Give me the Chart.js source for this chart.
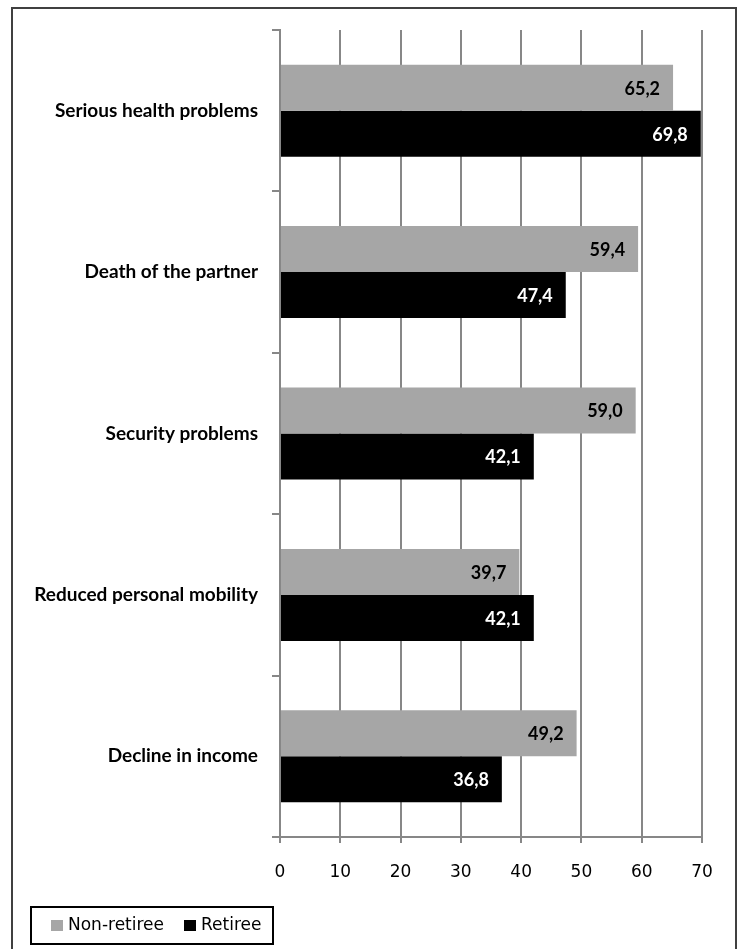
<!DOCTYPE html>
<html>
<head>
<meta charset="utf-8">
<script src="https://cdn.jsdelivr.net/npm/chart.js@4"></script>
<style>
  html, body { margin: 0; padding: 0; background: #fff; }
  #wrap { position: relative; width: 741px; height: 949px; overflow: hidden; }
  #frame { position: absolute; left: 11px; top: 7px; width: 722px; height: 960px; border: 2px solid #404040; }
  canvas { position: absolute; left: 0; top: 0; }
</style>
</head>
<body>
<div id="wrap">
  <div id="frame"></div>
  <canvas id="chart" width="741" height="949"></canvas>
</div>
<script>
const categories = ['Serious health problems', 'Death of the partner', 'Security problems', 'Reduced personal mobility', 'Decline in income'];
const nonRetiree = [65.2, 59.4, 59.0, 39.7, 49.2];
const retiree = [69.8, 47.4, 42.1, 42.1, 36.8];
const seriesNames = ['Non-retiree', 'Retiree'];
const xTicks = [0, 10, 20, 30, 40, 50, 60, 70];

const GRID = '#878787';
const labelFont = 'Lato, "Liberation Sans", sans-serif';

// values written inside the bar ends, comma decimals
const barValues = {
    id: 'barValues',
    afterDatasetsDraw(chart) {
        const ctx = chart.ctx;
        ctx.save();
        ctx.font = 'bold 18px ' + labelFont;
        ctx.textAlign = 'right';
        ctx.textBaseline = 'middle';
        chart.data.datasets.forEach((ds, i) => {
            chart.getDatasetMeta(i).data.forEach((bar, j) => {
                ctx.fillStyle = i === 0 ? '#000' : '#fff';
                ctx.fillText(ds.data[j].toFixed(1).replace('.', ','), bar.x - 13, bar.y + 1);
            });
        });
        ctx.restore();
    }
};

// boxed legend in the bottom-left corner
const boxLegend = {
    id: 'boxLegend',
    afterDraw(chart) {
        const ctx = chart.ctx;
        ctx.save();
        ctx.strokeStyle = '#000';
        ctx.lineWidth = 2;
        ctx.strokeRect(31, 907, 242, 37);
        ctx.font = '17px "DejaVu Sans", sans-serif';
        ctx.textBaseline = 'middle';
        ctx.textAlign = 'left';
        const xs = [51, 184];
        chart.data.datasets.forEach((ds, i) => {
            ctx.fillStyle = ds.backgroundColor;
            ctx.fillRect(xs[i], 920, 12, 11);
            ctx.fillStyle = '#000';
            ctx.fillText(ds.label, xs[i] + 17, 926);
        });
        ctx.restore();
    }
};

new Chart(document.getElementById('chart'), {
    type: 'bar',
    data: {
        labels: categories,
        datasets: [
            { label: seriesNames[0], data: nonRetiree, backgroundColor: '#A6A6A6' },
            { label: seriesNames[1], data: retiree, backgroundColor: '#000000' }
        ]
    },
    options: {
        indexAxis: 'y',
        responsive: false,
        animation: false,
        devicePixelRatio: 1,
        layout: { padding: { left: 0, right: 39, top: 30, bottom: 0 } },
        datasets: { bar: { categoryPercentage: 0.57, barPercentage: 1 } },
        plugins: { legend: { display: false }, tooltip: { enabled: false } },
        scales: {
            x: {
                min: 0, max: 70,
                afterBuildTicks: s => { s.ticks = xTicks.map(v => ({ value: v })); },
                afterFit: s => { s.height = 112; },
                grid: { color: GRID, lineWidth: 2, tickLength: 6 },
                border: { color: GRID, width: 2 },
                ticks: { color: '#000', padding: 19, font: { family: '"DejaVu Sans", sans-serif', size: 17 } }
            },
            y: {
                afterFit: s => { s.width = 280; },
                grid: { drawOnChartArea: false, color: GRID, lineWidth: 2, tickLength: 8 },
                border: { color: GRID, width: 2 },
                ticks: { color: '#000', padding: 14, font: { family: labelFont, size: 19, weight: 'bold' } }
            }
        }
    },
    plugins: [barValues, boxLegend]
});
</script>
</body>
</html>
